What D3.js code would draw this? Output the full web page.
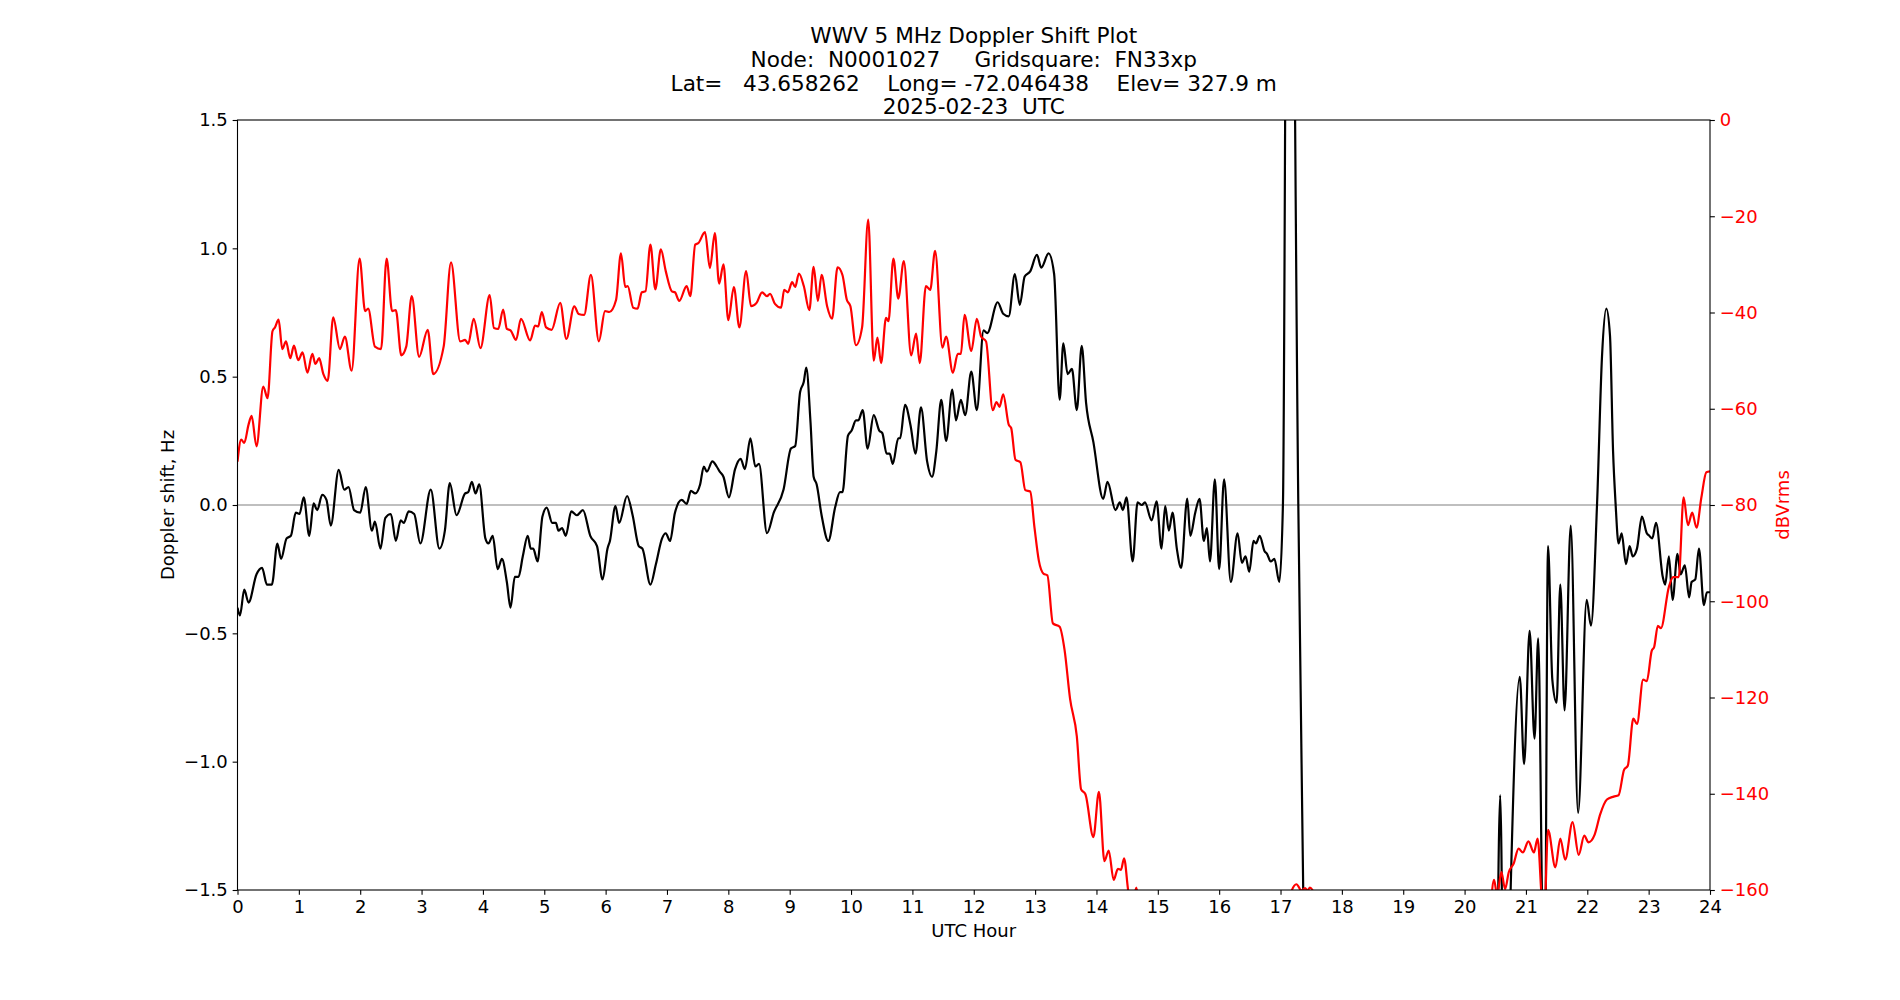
<!DOCTYPE html>
<html>
<head>
<meta charset="utf-8">
<script src="https://cdn.jsdelivr.net/npm/d3@7/dist/d3.min.js"></script>
<style>
  body { margin: 0; background: #ffffff; }
  svg text { font-family: "DejaVu Sans", sans-serif; }
  .title { font-size: 21.6px; white-space: pre; }
</style>
</head>
<body>
<div id="chart"></div>
<script>
// ---- data ----
const titleLines = [
  "WWV 5 MHz Doppler Shift Plot",
  "Node:  N0001027     Gridsquare:  FN33xp",
  "Lat=   43.658262    Long= -72.046438    Elev= 327.9 m",
  "2025-02-23  UTC"
];
const hourTicks = d3.range(0, 25);
const dopplerTicks = [-1.5, -1.0, -0.5, 0.0, 0.5, 1.0, 1.5];
const powerTicks = [-160, -140, -120, -100, -80, -60, -40, -20, 0];

// doppler shift (Hz), black line
const dopplerHours = [
  0.0, 0.04, 0.11, 0.18, 0.31, 0.40, 0.48, 0.56, 0.65, 0.71, 0.80, 0.87, 0.95, 1.01, 1.08, 1.17, 1.24, 1.30, 1.38, 1.45,
  1.52, 1.65, 1.74, 1.81, 1.90, 2.00, 2.09, 2.19, 2.24, 2.33, 2.41, 2.50, 2.58, 2.66, 2.71, 2.79, 2.88, 2.98, 3.15, 3.29,
  3.38, 3.46, 3.57, 3.71, 3.76, 3.82, 3.88, 3.94, 4.04, 4.09, 4.16, 4.24, 4.31, 4.39, 4.45, 4.52, 4.58, 4.65, 4.73, 4.78,
  4.82, 4.89, 4.97, 5.04, 5.13, 5.19, 5.23, 5.29, 5.35, 5.44, 5.53, 5.63, 5.75, 5.86, 5.95, 6.03, 6.07, 6.16, 6.22, 6.35,
  6.44, 6.54, 6.60, 6.73, 6.82, 6.92, 6.98, 7.05, 7.13, 7.24, 7.32, 7.39, 7.46, 7.54, 7.60, 7.65, 7.74, 7.81, 7.86, 7.92,
  8.01, 8.11, 8.20, 8.27, 8.36, 8.44, 8.50, 8.63, 8.74, 8.90, 9.02, 9.09, 9.17, 9.23, 9.27, 9.34, 9.39, 9.44, 9.52, 9.63,
  9.74, 9.82, 9.86, 9.95, 10.01, 10.08, 10.12, 10.19, 10.27, 10.37, 10.46, 10.51, 10.58, 10.63, 10.68, 10.77, 10.80, 10.88, 10.97, 11.05,
  11.14, 11.24, 11.32, 11.39, 11.47, 11.55, 11.65, 11.71, 11.79, 11.86, 11.96, 12.05, 12.16, 12.22, 12.39, 12.48, 12.57, 12.67, 12.75, 12.83,
  12.92, 13.03, 13.10, 13.22, 13.31, 13.40, 13.46, 13.53, 13.60, 13.68, 13.76, 13.83, 13.95, 14.11, 14.18, 14.31, 14.38, 14.43, 14.49, 14.59,
  14.67, 14.74, 14.79, 14.90, 14.98, 15.06, 15.12, 15.18, 15.24, 15.31, 15.38, 15.48, 15.53, 15.61, 15.68, 15.75, 15.80, 15.85, 15.93, 16.00,
  16.08, 16.19, 16.30, 16.37, 16.43, 16.49, 16.56, 16.60, 16.66, 16.74, 16.78, 16.84, 16.90, 16.98, 17.04, 17.13, 17.29, 17.37, 17.45, 20.45,
  20.50, 20.58, 20.66, 20.74, 20.90, 20.97, 21.06, 21.14, 21.20, 21.26, 21.30, 21.36, 21.43, 21.50, 21.56, 21.63, 21.73, 21.85, 21.99, 22.06,
  22.16, 22.24, 22.31, 22.37, 22.42, 22.46, 22.51, 22.56, 22.63, 22.69, 22.74, 22.81, 22.89, 22.97, 23.01, 23.06, 23.12, 23.23, 23.27, 23.33,
  23.39, 23.47, 23.52, 23.59, 23.66, 23.70, 23.76, 23.82, 23.90, 23.95, 24.0
];
const dopplerHz = [
  -0.40, -0.43, -0.33, -0.38, -0.27, -0.245, -0.31, -0.31, -0.15, -0.21, -0.13, -0.12, -0.03, -0.035, 0.03, -0.12, 0.006, -0.02, 0.04, 0.02,
  -0.08, 0.137, 0.06, 0.07, -0.02, -0.03, 0.07, -0.10, -0.065, -0.17, -0.05, -0.035, -0.14, -0.06, -0.07, -0.025, -0.035, -0.15, 0.06, -0.17,
  -0.10, 0.085, -0.04, 0.045, 0.05, 0.09, 0.045, 0.08, -0.13, -0.15, -0.12, -0.25, -0.21, -0.30, -0.40, -0.28, -0.28, -0.20, -0.12, -0.17,
  -0.17, -0.22, -0.045, -0.01, -0.07, -0.07, -0.10, -0.09, -0.12, -0.025, -0.04, -0.02, -0.12, -0.16, -0.29, -0.17, -0.14, -0.004, -0.07, 0.035,
  -0.04, -0.16, -0.17, -0.31, -0.23, -0.13, -0.11, -0.14, -0.03, 0.02, 0.004, 0.055, 0.045, 0.08, 0.15, 0.13, 0.17, 0.15, 0.13, 0.11,
  0.03, 0.14, 0.18, 0.14, 0.26, 0.15, 0.16, -0.11, -0.03, 0.06, 0.22, 0.23, 0.44, 0.48, 0.535, 0.32, 0.11, 0.08, -0.04, -0.14,
  -0.01, 0.05, 0.05, 0.27, 0.29, 0.33, 0.33, 0.37, 0.22, 0.35, 0.29, 0.28, 0.20, 0.20, 0.16, 0.26, 0.26, 0.39, 0.31, 0.20,
  0.38, 0.17, 0.11, 0.21, 0.41, 0.25, 0.45, 0.33, 0.41, 0.35, 0.52, 0.37, 0.68, 0.67, 0.79, 0.745, 0.735, 0.90, 0.78, 0.89,
  0.91, 0.975, 0.925, 0.98, 0.90, 0.41, 0.63, 0.51, 0.53, 0.37, 0.62, 0.40, 0.245, 0.024, 0.09, -0.02, 0.01, -0.02, 0.03, -0.22,
  0.01, 0.0, 0.01, -0.06, 0.014, -0.17, -0.004, -0.10, -0.03, -0.17, -0.245, 0.025, -0.12, -0.03, 0.024, -0.14, -0.09, -0.22, 0.10, -0.25,
  0.10, -0.30, -0.11, -0.225, -0.20, -0.26, -0.14, -0.15, -0.12, -0.18, -0.19, -0.22, -0.21, -0.30, 0.01, 4.0, 0.0, -1.5, -3.0, -3.0,
  -2.5, -1.13, -2.5, -1.6, -0.67, -1.01, -0.49, -0.91, -0.52, -1.5, -2.2, -0.16, -0.68, -0.77, -0.31, -0.80, -0.08, -1.20, -0.37, -0.47,
  0.01, 0.58, 0.765, 0.66, 0.21, 0.01, -0.15, -0.11, -0.23, -0.16, -0.20, -0.17, -0.045, -0.11, -0.12, -0.13, -0.07, -0.28, -0.31, -0.20,
  -0.37, -0.19, -0.27, -0.235, -0.36, -0.30, -0.29, -0.17, -0.39, -0.34, -0.34
];

// received power (dBVrms), red line
const powerHours = [
  0.0, 0.06, 0.11, 0.18, 0.23, 0.31, 0.42, 0.49, 0.57, 0.61, 0.67, 0.73, 0.79, 0.86, 0.92, 0.99, 1.06, 1.14, 1.22, 1.27,
  1.33, 1.40, 1.47, 1.56, 1.67, 1.75, 1.86, 1.99, 2.08, 2.13, 2.24, 2.34, 2.43, 2.52, 2.58, 2.67, 2.75, 2.84, 2.96, 3.10,
  3.19, 3.36, 3.48, 3.63, 3.71, 3.76, 3.85, 3.96, 4.11, 4.18, 4.25, 4.33, 4.39, 4.45, 4.54, 4.62, 4.77, 4.85, 4.90, 4.96,
  5.03, 5.12, 5.26, 5.36, 5.49, 5.56, 5.65, 5.76, 5.89, 5.99, 6.06, 6.17, 6.25, 6.32, 6.36, 6.45, 6.52, 6.59, 6.65, 6.73,
  6.81, 6.90, 6.98, 7.08, 7.13, 7.20, 7.32, 7.38, 7.46, 7.51, 7.62, 7.70, 7.78, 7.85, 7.92, 8.00, 8.09, 8.18, 8.29, 8.37,
  8.46, 8.55, 8.63, 8.68, 8.76, 8.86, 8.91, 8.97, 9.04, 9.09, 9.15, 9.23, 9.32, 9.39, 9.46, 9.52, 9.61, 9.69, 9.78, 9.86,
  9.93, 9.99, 10.08, 10.18, 10.28, 10.37, 10.43, 10.49, 10.57, 10.61, 10.69, 10.77, 10.86, 10.98, 11.06, 11.12, 11.22, 11.29, 11.37, 11.49,
  11.55, 11.66, 11.74, 11.79, 11.85, 11.96, 12.05, 12.12, 12.20, 12.31, 12.37, 12.42, 12.48, 12.57, 12.61, 12.68, 12.76, 12.84, 12.92, 12.99,
  13.06, 13.14, 13.20, 13.29, 13.40, 13.48, 13.57, 13.68, 13.75, 13.82, 13.95, 14.04, 14.13, 14.20, 14.28, 14.35, 14.40, 14.45, 14.53, 14.60,
  14.65, 14.72, 17.10, 17.18, 17.26, 17.34, 17.40, 17.44, 17.48, 17.55, 17.62, 20.38, 20.48, 20.53, 20.60, 20.66, 20.72, 20.80, 20.88, 20.95,
  21.04, 21.13, 21.19, 21.26, 21.30, 21.36, 21.48, 21.56, 21.64, 21.76, 21.86, 21.95, 22.02, 22.12, 22.21, 22.32, 22.43, 22.51, 22.60, 22.66,
  22.75, 22.81, 22.91, 22.97, 23.05, 23.09, 23.15, 23.20, 23.33, 23.40, 23.49, 23.57, 23.64, 23.71, 23.78, 23.86, 23.94, 24.0
];
const powerDb = [
  -71.0, -66.4, -67.1, -63.3, -61.5, -67.8, -55.4, -57.8, -43.9, -43.1, -41.5, -47.6, -46.0, -49.5, -46.9, -49.9, -48.3, -52.5, -48.6, -50.7,
  -49.5, -52.8, -54.2, -41.0, -47.6, -45.0, -52.1, -28.8, -39.7, -39.2, -47.1, -47.6, -28.8, -39.7, -39.5, -48.9, -47.1, -36.6, -49.2, -43.6,
  -52.8, -47.1, -29.6, -46.0, -45.7, -46.5, -41.3, -47.4, -36.4, -43.2, -43.4, -39.4, -43.4, -43.7, -45.7, -41.3, -45.8, -42.7, -42.9, -39.9,
  -43.1, -43.6, -38.0, -45.5, -38.7, -40.3, -40.5, -32.2, -46.0, -39.7, -39.9, -37.4, -27.7, -34.7, -34.5, -39.0, -39.2, -35.8, -35.6, -25.9,
  -35.2, -26.9, -31.4, -35.6, -35.8, -37.6, -34.5, -36.6, -25.9, -25.6, -23.3, -30.8, -23.5, -34.0, -30.0, -41.6, -34.7, -43.1, -31.4, -38.7,
  -38.0, -35.8, -36.6, -36.1, -38.2, -39.0, -35.3, -35.8, -33.7, -34.7, -31.9, -34.5, -39.5, -30.5, -37.6, -32.2, -38.7, -41.3, -30.6, -32.2,
  -37.3, -38.7, -46.8, -43.1, -20.7, -50.0, -45.2, -50.5, -41.1, -41.8, -28.8, -37.1, -29.3, -48.9, -44.4, -50.5, -34.5, -35.3, -27.2, -47.3,
  -45.0, -52.5, -48.6, -48.6, -40.5, -48.0, -41.3, -45.0, -46.0, -60.3, -58.6, -59.6, -57.0, -63.3, -64.0, -70.6, -71.1, -76.9, -77.2, -84.7,
  -91.5, -94.3, -94.6, -104.6, -105.3, -110.1, -120.3, -128.1, -139.1, -140.1, -149.0, -139.6, -154.0, -151.8, -157.9, -155.6, -155.8, -153.4, -161.0, -162.0,
  -159.5, -165.0, -168.0, -160.2, -158.8, -160.1, -159.6, -160.1, -159.5, -161.0, -168.0, -168.0, -157.9, -161.0, -156.3, -159.8, -156.3, -154.5, -151.4, -152.2,
  -149.9, -152.2, -149.3, -162.0, -165.0, -147.5, -155.3, -149.3, -153.7, -145.9, -152.7, -148.7, -150.1, -148.5, -144.3, -141.2, -140.6, -140.3, -135.0, -134.2,
  -124.4, -125.5, -116.3, -116.6, -110.3, -109.5, -105.1, -105.6, -97.0, -95.0, -95.0, -78.4, -84.2, -81.6, -84.7, -78.4, -73.2, -73.0
];

/** Draws the doppler / power plot with two y axes. */
class DopplerChart {

  constructor() {
    this.width = 1900;
    this.height = 1000;
    // plot box, matplotlib default subplot params for a 19x10 figure
    this.margin = { left: 237.5, right: 190, top: 120, bottom: 110 };
    this.plotW = this.width - this.margin.left - this.margin.right;
    this.plotH = this.height - this.margin.top - this.margin.bottom;

    this.svg = d3.select("#chart").append("svg")
      .attr("width", this.width)
      .attr("height", this.height);
  }

  draw() {
    let x = d3.scaleLinear().domain([0, 24]).range([0, this.plotW]);
    let yHz = d3.scaleLinear().domain([-1.5, 1.5]).range([this.plotH, 0]);
    let yDb = d3.scaleLinear().domain([-160, 0]).range([this.plotH, 0]);

    let g = this.svg.append("g")
      .attr("transform", "translate(" + this.margin.left + "," + this.margin.top + ")");

    g.append("clipPath").attr("id", "plotClip")
      .append("rect")
      .attr("width", this.plotW)
      .attr("height", this.plotH);

    let plot = g.append("g").attr("clip-path", "url(#plotClip)");

    //zero line
    plot.append("line")
      .attr("x1", 0).attr("x2", this.plotW)
      .attr("y1", yHz(0)).attr("y2", yHz(0))
      .attr("stroke", "#808080")
      .attr("stroke-width", 1.2);

    let dopplerLine = d3.line()
      .x(d => x(d[0]))
      .y(d => yHz(d[1]))
      .curve(d3.curveMonotoneX);
    let powerLine = d3.line()
      .x(d => x(d[0]))
      .y(d => yDb(d[1]))
      .curve(d3.curveMonotoneX);

    plot.append("path")
      .datum(d3.zip(dopplerHours, dopplerHz))
      .attr("d", dopplerLine)
      .attr("fill", "none")
      .attr("stroke", "#000000")
      .attr("stroke-width", 2.2)
      .attr("stroke-linejoin", "round");

    plot.append("path")
      .datum(d3.zip(powerHours, powerDb))
      .attr("d", powerLine)
      .attr("fill", "none")
      .attr("stroke", "#ff0000")
      .attr("stroke-width", 2.2)
      .attr("stroke-linejoin", "round");

    // axes
    let tickLen = 4.86;
    let xAxis = d3.axisBottom(x).tickValues(hourTicks).tickFormat(d3.format("d"))
      .tickSize(tickLen).tickPadding(tickLen);
    let leftAxis = d3.axisLeft(yHz).tickValues(dopplerTicks).tickFormat(d3.format(".1f"))
      .tickSize(tickLen).tickPadding(tickLen);
    let rightAxis = d3.axisRight(yDb).tickValues(powerTicks).tickFormat(d3.format("d"))
      .tickSize(tickLen).tickPadding(tickLen);

    let gx = g.append("g").attr("transform", "translate(0," + this.plotH + ")").call(xAxis);
    let gl = g.append("g").call(leftAxis);
    let gr = g.append("g").attr("transform", "translate(" + this.plotW + ",0)").call(rightAxis);

    [gx, gl, gr].forEach(a => {
      a.attr("font-family", "DejaVu Sans, sans-serif").attr("font-size", 18);
      a.select(".domain").remove();
      a.selectAll(".tick line").attr("stroke", "#000").attr("stroke-width", 1.1);
    });
    gr.selectAll(".tick text").attr("fill", "#ff0000");

    //frame
    g.append("rect")
      .attr("width", this.plotW)
      .attr("height", this.plotH)
      .attr("fill", "none")
      .attr("stroke", "#000")
      .attr("stroke-width", 1.1);

    // axis labels
    g.append("text")
      .attr("x", this.plotW / 2)
      .attr("y", this.plotH + 47)
      .attr("text-anchor", "middle")
      .attr("font-size", 18)
      .text("UTC Hour");

    g.append("text")
      .attr("transform", "translate(" + (-64) + "," + (this.plotH / 2) + ") rotate(-90)")
      .attr("text-anchor", "middle")
      .attr("font-size", 18)
      .text("Doppler shift, Hz");

    g.append("text")
      .attr("transform", "translate(" + (this.plotW + 79) + "," + (this.plotH / 2) + ") rotate(-90)")
      .attr("text-anchor", "middle")
      .attr("font-size", 18)
      .attr("fill", "#ff0000")
      .text("dBVrms");

    // title, four lines
    this.svg.append("g").selectAll("text")
      .data(titleLines)
      .enter().append("text")
      .attr("class", "title")
      .attr("x", this.margin.left + this.plotW / 2)
      .attr("y", (d, i) => 43 + i * 23.8)
      .attr("text-anchor", "middle")
      .text(d => d);
  }
}

let chart = new DopplerChart();
chart.draw();
</script>
</body>
</html>
